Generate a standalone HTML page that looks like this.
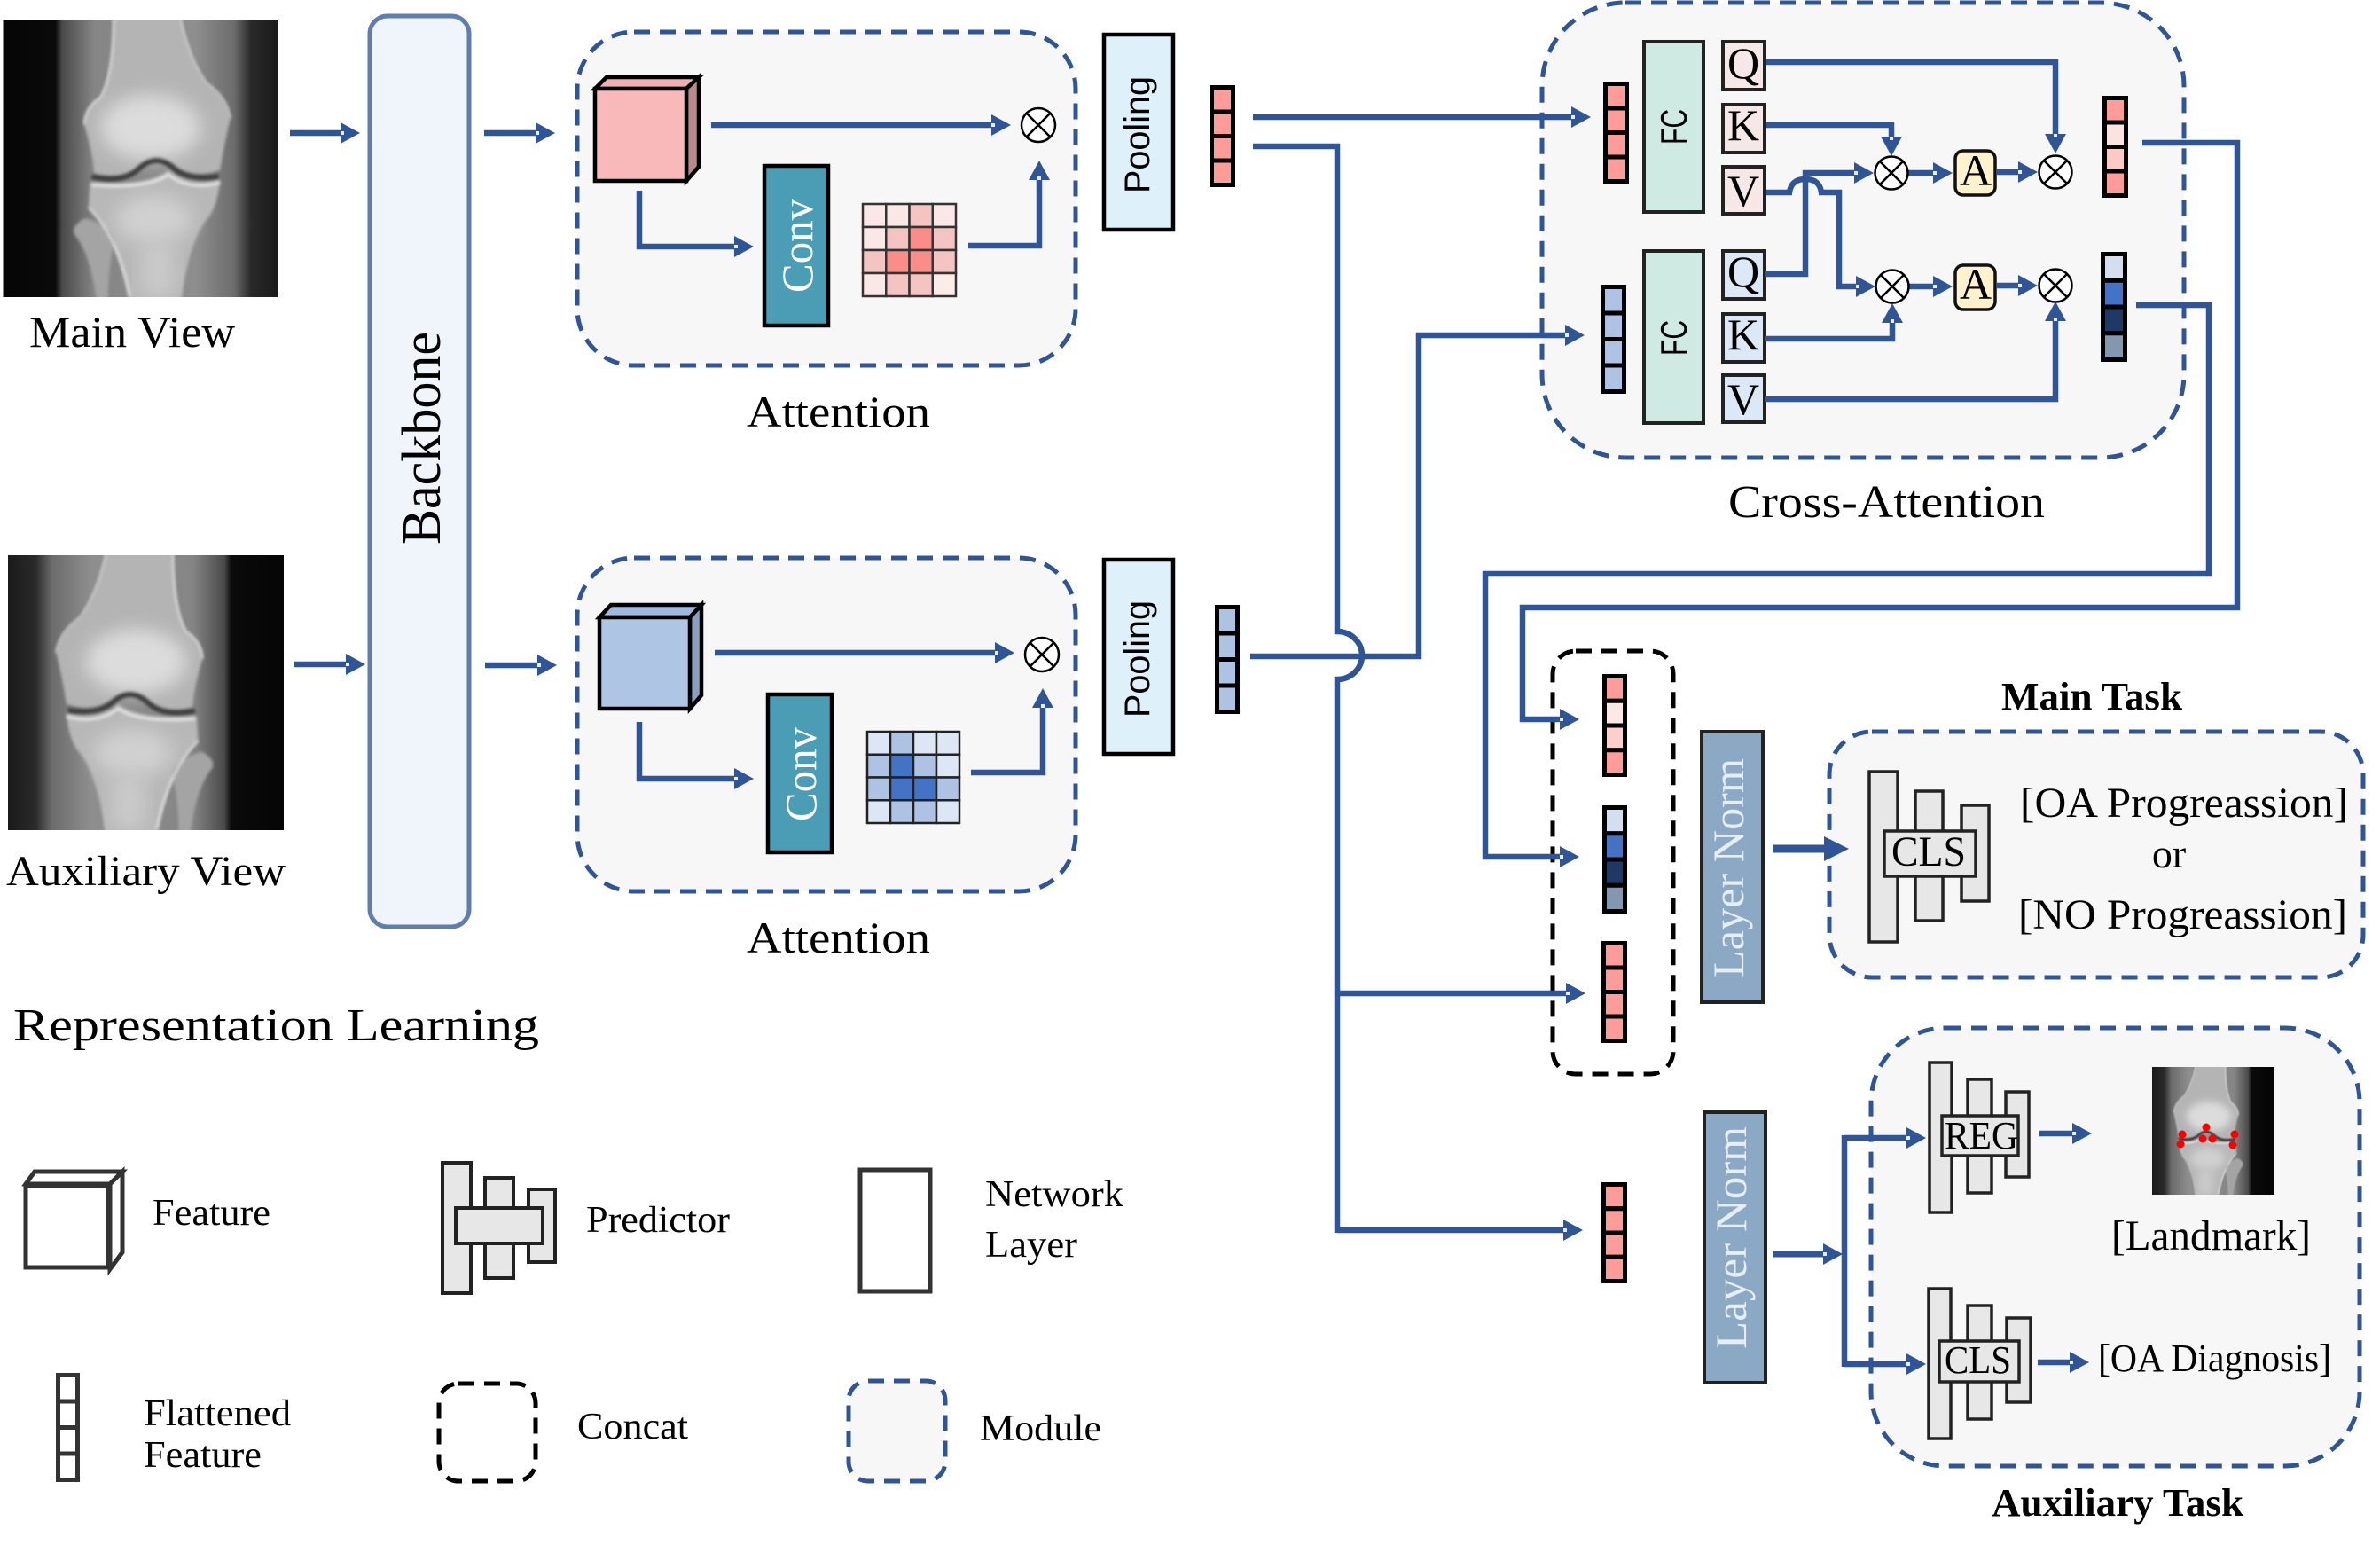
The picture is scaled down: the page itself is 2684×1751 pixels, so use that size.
<!DOCTYPE html>
<html><head><meta charset="utf-8"><style>
html,body{margin:0;padding:0;background:#fff}
svg{display:block}
text{font-family:"Liberation Serif",serif;fill:#000}
.s{font-family:"Liberation Sans",sans-serif}
.l{fill:none;stroke:#2f5597;stroke-width:6.5;stroke-linejoin:miter}
.a{marker-end:url(#h)}
.mod{fill:#f7f7f7;stroke:#2f5597;stroke-width:5;stroke-dasharray:18 11}
.con{fill:none;stroke:#000;stroke-width:5;stroke-dasharray:18 11}
.k{stroke:#000;stroke-width:4.5}
.b{stroke:#000;stroke-width:5}
.p{fill:#e7e7e7;stroke:#222;stroke-width:3.5}
.x{fill:#fff;stroke:#000;stroke-width:2.5}
.xm{stroke:#000;stroke-width:2.5}
</style></head><body>
<svg xmlns="http://www.w3.org/2000/svg" width="2684" height="1751" viewBox="0 0 2684 1751">
<defs>
<marker id="h" markerUnits="userSpaceOnUse" viewBox="-8 -13 32 26" refX="0" refY="0" markerWidth="32" markerHeight="26" orient="auto"><path d="M0,-12L22,0L0,12Z" fill="#2f5597"/><rect x="0" y="-2" width="4" height="4" fill="#e8eefa"/></marker>
<marker id="H" markerUnits="userSpaceOnUse" viewBox="-2 -16 36 32" refX="0" refY="0" markerWidth="36" markerHeight="32" orient="auto"><path d="M0,-14L28,0L0,14Z" fill="#2f5597"/></marker>
<linearGradient id="tis" x1="0" x2="1" y1="0" y2="0">
<stop offset="0" stop-color="#050505"/><stop offset=".19" stop-color="#0a0a0a"/><stop offset=".215" stop-color="#4a4a4a"/><stop offset=".33" stop-color="#858585"/><stop offset=".7" stop-color="#8e8e8e"/><stop offset=".84" stop-color="#6c6c6c"/><stop offset=".9" stop-color="#2a2a2a"/><stop offset="1" stop-color="#1a1a1a"/>
</linearGradient>
<filter id="bl" x="-5%" y="-5%" width="110%" height="110%"><feGaussianBlur stdDeviation="5"/></filter>
<filter id="bl2" x="-30%" y="-30%" width="160%" height="160%"><feGaussianBlur stdDeviation="30"/></filter>
<symbol id="knee" viewBox="10 68 933 936" preserveAspectRatio="none">
<rect x="10" y="68" width="933" height="936" fill="url(#tis)"/>
<g filter="url(#bl)">
<path d="M385,40L610,40Q640,200 700,280Q770,330 780,400Q760,480 745,575Q650,605 590,555Q530,500 470,555Q420,610 320,585Q310,500 285,420Q290,360 340,330Q385,250 385,40Z" fill="#b4b4b4"/>
<path d="M305,615Q500,630 570,575Q640,635 745,605Q740,680 710,730Q640,800 610,1040L440,1040Q400,800 300,700Z" fill="#b8b8b8"/>
<path d="M250,770Q280,730 300,740Q400,780 385,830Q365,900 365,1040L330,1040Q310,860 250,790Z" fill="#a4a4a4"/>
</g>
<ellipse cx="510" cy="430" rx="170" ry="110" fill="#dcdcdc" filter="url(#bl2)"/>
<ellipse cx="520" cy="740" rx="130" ry="80" fill="#d0d0d0" filter="url(#bl2)"/>
<rect x="480" y="820" width="110" height="180" fill="#cacaca" filter="url(#bl2)"/>
<g filter="url(#bl)">
<path d="M310,597Q420,620 470,570Q530,515 590,570Q640,612 740,595" fill="none" stroke="#3e3e3e" stroke-width="17"/>
<path d="M385,60Q385,250 340,330Q290,360 285,420" fill="none" stroke="#e2e2e2" stroke-width="7"/>
<path d="M610,60Q640,200 700,280Q770,330 780,400" fill="none" stroke="#d0d0d0" stroke-width="6"/>
<path d="M440,1000Q400,800 300,700" fill="none" stroke="#e2e2e2" stroke-width="7"/>
<path d="M310,625Q500,640 570,590Q640,645 745,618" fill="none" stroke="#e6e6e6" stroke-width="9"/>
</g>
</symbol>
</defs>

<rect width="2684" height="1751" fill="#fff"/>

<!-- X-rays -->
<use href="#knee" x="3.5" y="23" width="310.5" height="312"/>
<use href="#knee" x="9" y="626" width="311" height="310" transform="translate(329,0) scale(-1,1)"/>

<text x="33" y="391" font-size="50" textLength="232" lengthAdjust="spacingAndGlyphs">Main View</text>
<text x="7" y="998" font-size="48" textLength="315" lengthAdjust="spacingAndGlyphs">Auxiliary View</text>

<!-- Backbone -->
<rect x="417" y="18" width="112" height="1027" rx="20" fill="#f0f4fb" stroke="#5f7ead" stroke-width="5"/>
<text transform="translate(496,614) rotate(-90)" font-size="62" textLength="240" lengthAdjust="spacingAndGlyphs">Backbone</text>

<!-- Attention modules -->
<rect class="mod" x="651" y="36" width="562" height="376" rx="64"/>
<rect class="mod" x="651" y="629" width="562" height="376" rx="64"/>
<text x="842" y="481" font-size="50" textLength="207" lengthAdjust="spacingAndGlyphs">Attention</text>
<text x="842" y="1074" font-size="50" textLength="207" lengthAdjust="spacingAndGlyphs">Attention</text>

<!-- Cube 1 -->
<g class="k" stroke-linejoin="miter">
<path d="M671,100L684,87H788L774,100Z" fill="#f2aeb0"/>
<path d="M774,100L788,87V188L774,204Z" fill="#b98a8c"/>
<rect x="671" y="100" width="103" height="104" fill="#f9b9bb"/>
</g>
<!-- Cube 2 -->
<g class="k" stroke-linejoin="miter">
<path d="M676,696L689,682H791L778,696Z" fill="#9fb9de"/>
<path d="M778,696L791,682V784L778,799Z" fill="#8ba0bf"/>
<rect x="676" y="696" width="102" height="103" fill="#aec6e4"/>
</g>

<!-- Conv -->
<rect class="k" x="862" y="187" width="72" height="180" fill="#4a9db5"/>
<rect class="k" x="866" y="783" width="72" height="178" fill="#4a9db5"/>
<text transform="translate(916,330) rotate(-90)" font-size="50" textLength="106" lengthAdjust="spacingAndGlyphs" style="fill:#fff">Conv</text>
<text transform="translate(920,926) rotate(-90)" font-size="50" textLength="106" lengthAdjust="spacingAndGlyphs" style="fill:#fff">Conv</text>

<!-- Grid 1 -->
<g stroke="#333" stroke-width="2.5">
<rect x="973" y="230" width="26.25" height="26" fill="#f9e8e6"/><rect x="999.25" y="230" width="26.25" height="26" fill="#f9e8e6"/><rect x="1025.5" y="230" width="26.25" height="26" fill="#f4c4c2"/><rect x="1051.75" y="230" width="26.25" height="26" fill="#f9e8e6"/>
<rect x="973" y="256" width="26.25" height="26" fill="#f9e8e6"/><rect x="999.25" y="256" width="26.25" height="26" fill="#f4c4c2"/><rect x="1025.5" y="256" width="26.25" height="26" fill="#fb8d88"/><rect x="1051.75" y="256" width="26.25" height="26" fill="#f4c4c2"/>
<rect x="973" y="282" width="26.25" height="26" fill="#f4c4c2"/><rect x="999.25" y="282" width="26.25" height="26" fill="#fb8d88"/><rect x="1025.5" y="282" width="26.25" height="26" fill="#fb8d88"/><rect x="1051.75" y="282" width="26.25" height="26" fill="#f4c4c2"/>
<rect x="973" y="308" width="26.25" height="26" fill="#f9e8e6"/><rect x="999.25" y="308" width="26.25" height="26" fill="#f4c4c2"/><rect x="1025.5" y="308" width="26.25" height="26" fill="#f4c4c2"/><rect x="1051.75" y="308" width="26.25" height="26" fill="#fbecea"/>
</g>
<!-- Grid 2 -->
<g stroke="#222" stroke-width="2.5">
<rect x="978" y="825" width="26" height="25.75" fill="#dce6f4"/><rect x="1004" y="825" width="26" height="25.75" fill="#aec2e3"/><rect x="1030" y="825" width="26" height="25.75" fill="#dce6f4"/><rect x="1056" y="825" width="26" height="25.75" fill="#dce6f4"/>
<rect x="978" y="850.75" width="26" height="25.75" fill="#aec2e3"/><rect x="1004" y="850.75" width="26" height="25.75" fill="#4472c4"/><rect x="1030" y="850.75" width="26" height="25.75" fill="#aec2e3"/><rect x="1056" y="850.75" width="26" height="25.75" fill="#dce6f4"/>
<rect x="978" y="876.5" width="26" height="25.75" fill="#aec2e3"/><rect x="1004" y="876.5" width="26" height="25.75" fill="#4472c4"/><rect x="1030" y="876.5" width="26" height="25.75" fill="#4472c4"/><rect x="1056" y="876.5" width="26" height="25.75" fill="#aec2e3"/>
<rect x="978" y="902.25" width="26" height="25.75" fill="#dce6f4"/><rect x="1004" y="902.25" width="26" height="25.75" fill="#aec2e3"/><rect x="1030" y="902.25" width="26" height="25.75" fill="#aec2e3"/><rect x="1056" y="902.25" width="26" height="25.75" fill="#dce6f4"/>
</g>

<!-- Pooling -->
<rect class="k" x="1245" y="39" width="78" height="220" fill="#def1fb"/>
<rect class="k" x="1245" y="631" width="78" height="219" fill="#def1fb"/>
<text class="s" transform="translate(1296,218) rotate(-90)" font-size="40" textLength="132" lengthAdjust="spacingAndGlyphs">Pooling</text>
<text class="s" transform="translate(1296,809) rotate(-90)" font-size="40" textLength="132" lengthAdjust="spacingAndGlyphs">Pooling</text>

<!-- Cross-attention module -->
<rect class="mod" x="1739" y="3" width="724" height="513" rx="94"/>
<text x="1949" y="583" font-size="52" textLength="357" lengthAdjust="spacingAndGlyphs">Cross-Attention</text>

<!-- Main task / aux task modules -->
<rect class="mod" x="2063" y="825" width="602" height="277" rx="48"/>
<rect class="mod" x="2110" y="1159" width="551" height="494" rx="84"/>
<text x="2257" y="800" font-size="44" font-weight="bold" textLength="204" lengthAdjust="spacingAndGlyphs">Main Task</text>
<text x="2246" y="1709" font-size="44" font-weight="bold" textLength="284" lengthAdjust="spacingAndGlyphs">Auxiliary Task</text>

<!-- Landmark image -->
<use href="#knee" x="2427" y="1203" width="138" height="144" transform="translate(4992,0) scale(-1,1)"/>
<g fill="#f00"><circle cx="2461" cy="1279" r="4.5"/><circle cx="2459" cy="1290" r="4.5"/><circle cx="2488" cy="1271" r="4.5"/><circle cx="2484" cy="1284" r="4.5"/><circle cx="2495" cy="1284" r="4.5"/><circle cx="2520" cy="1279" r="4.5"/><circle cx="2518" cy="1291" r="4.5"/></g>

<!-- Concat -->
<rect class="con" x="1751" y="734" width="136" height="477" rx="26"/>

<!-- FC -->
<g stroke="#222" stroke-width="4">
<rect x="1854" y="47" width="67" height="192" fill="#cfeae3"/>
<rect x="1854" y="283" width="67" height="194" fill="#cfeae3"/>
</g>
<text class="s" transform="translate(1902,163) rotate(-90)" font-size="42" textLength="40" lengthAdjust="spacingAndGlyphs">FC</text>
<text class="s" transform="translate(1902,401) rotate(-90)" font-size="42" textLength="40" lengthAdjust="spacingAndGlyphs">FC</text>

<!-- QKV -->
<g stroke="#222" stroke-width="4">
<rect x="1943" y="47" width="47" height="54" fill="#f5e8e6"/>
<rect x="1943" y="118" width="47" height="54" fill="#f5e8e6"/>
<rect x="1943" y="188" width="47" height="53" fill="#f5e8e6"/>
<rect x="1943" y="283" width="47" height="54" fill="#dce8f5"/>
<rect x="1943" y="354" width="47" height="54" fill="#dce8f5"/>
<rect x="1943" y="423" width="47" height="53" fill="#dce8f5"/>
</g>
<g font-size="50" text-anchor="middle">
<text x="1966" y="88">Q</text><text x="1966" y="158">K</text><text x="1966" y="232">V</text>
<text x="1966" y="323">Q</text><text x="1966" y="394">K</text><text x="1966" y="467">V</text>
</g>

<!-- A boxes -->
<rect x="2205" y="170" width="45" height="50" rx="9" fill="#fff2cc" stroke="#111" stroke-width="3.5"/>
<rect x="2205" y="299" width="45" height="50" rx="9" fill="#fff2cc" stroke="#111" stroke-width="3.5"/>
<text x="2228" y="209" font-size="50" text-anchor="middle">A</text>
<text x="2228" y="337" font-size="50" text-anchor="middle">A</text>

<!-- Connectors -->
<g class="l">
<path class="a" d="M327,150H384"/>
<path class="a" d="M546,150H604"/>
<path class="a" d="M332,749H390"/>
<path class="a" d="M547,750H606"/>
<path class="a" d="M802,141H1118"/>
<path class="a" d="M806,736H1122"/>
<path class="a" d="M721,215V278H828"/>
<path class="a" d="M721,814V878H828"/>
<path class="a" d="M1092,277H1172V203"/>
<path class="a" d="M1095,871H1176V798"/>
<path class="a" d="M1413,132H1772"/>
<path class="a" d="M1410,740H1600V378H1765"/>
<path d="M1413,165H1508V712A28,27 0 0 1 1508,766V1390"/>
<path class="a" d="M1508,1120H1766"/>
<path class="a" d="M1508,1387H1763"/>
<path class="a" d="M1992,70H2318V151"/>
<path class="a" d="M1992,141H2133V154"/>
<path class="a" d="M1992,217H2018Q2020,202 2036,202Q2052,202 2054,217H2074V323H2093"/>
<path class="a" d="M1991,309H2036V195H2091"/>
<path class="a" d="M2152,195H2180"/>
<path class="a" d="M2152,323H2180"/>
<path class="a" d="M2252,194H2276"/>
<path class="a" d="M2252,322H2276"/>
<path class="a" d="M1991,382H2134V364"/>
<path class="a" d="M1991,450H2318V362"/>
<path class="a" d="M2416,161H2523V685H1717V811H1759"/>
<path class="a" d="M2409,344H2491V647H1675V966H1759"/>
<path class="a" d="M2080,1283H2150"/>
<path class="a" d="M2080,1538H2150"/>
<path d="M2080,1280V1541"/>
<path class="a" d="M2300,1278H2337"/>
<path class="a" d="M2298,1536H2334"/>
<path class="a" style="stroke-width:7" d="M2000,1414H2056"/>
</g>
<path d="M2000,957H2057" class="l" style="stroke-width:9" marker-end="url(#H)"/>

<!-- X circles -->
<g>
<circle class="x" cx="1171" cy="141" r="19"/><path class="xm" d="M1158,128L1184,154M1184,128L1158,154"/>
<circle class="x" cx="1175" cy="738" r="19"/><path class="xm" d="M1162,725L1188,751M1188,725L1162,751"/>
<circle class="x" cx="2133" cy="195" r="18.5"/><path class="xm" d="M2120,182L2146,208M2146,182L2120,208"/>
<circle class="x" cx="2318" cy="194" r="18.5"/><path class="xm" d="M2305,181L2331,207M2331,181L2305,207"/>
<circle class="x" cx="2134" cy="323" r="18.5"/><path class="xm" d="M2121,310L2147,336M2147,310L2121,336"/>
<circle class="x" cx="2318" cy="322" r="18.5"/><path class="xm" d="M2305,309L2331,335M2331,309L2305,335"/>
</g>

<!-- Flattened bars -->
<g class="b">
<rect x="1366.5" y="98.5" width="24" height="27.5" fill="#fd9c98"/><rect x="1366.5" y="126" width="24" height="27.5" fill="#fd9c98"/><rect x="1366.5" y="153.5" width="24" height="27.5" fill="#fd9c98"/><rect x="1366.5" y="181" width="24" height="27.5" fill="#fd9c98"/>
<rect x="1372.5" y="684.5" width="23" height="29.5" fill="#aec2e3"/><rect x="1372.5" y="714" width="23" height="29.5" fill="#aec2e3"/><rect x="1372.5" y="743.5" width="23" height="29.5" fill="#aec2e3"/><rect x="1372.5" y="773" width="23" height="29.5" fill="#aec2e3"/>
<rect x="1810.5" y="94.5" width="24" height="27.5" fill="#fd9c98"/><rect x="1810.5" y="122" width="24" height="27.5" fill="#fd9c98"/><rect x="1810.5" y="149.5" width="24" height="27.5" fill="#fd9c98"/><rect x="1810.5" y="177" width="24" height="27.5" fill="#fd9c98"/>
<rect x="1807.5" y="323.5" width="24" height="29.5" fill="#aec2e3"/><rect x="1807.5" y="353" width="24" height="29.5" fill="#aec2e3"/><rect x="1807.5" y="382.5" width="24" height="29.5" fill="#aec2e3"/><rect x="1807.5" y="412" width="24" height="29.5" fill="#aec2e3"/>
<rect x="2373.5" y="110.5" width="24" height="27.5" fill="#fd9c98"/><rect x="2373.5" y="138" width="24" height="27.5" fill="#fae3e1"/><rect x="2373.5" y="165.5" width="24" height="27.5" fill="#fbc9c6"/><rect x="2373.5" y="193" width="24" height="27.5" fill="#fd9c98"/>
<rect x="2371.5" y="286.5" width="25" height="29.75" fill="#d3deef"/><rect x="2371.5" y="316.25" width="25" height="29.75" fill="#4472c4"/><rect x="2371.5" y="346" width="25" height="29.75" fill="#203864"/><rect x="2371.5" y="375.75" width="25" height="29.75" fill="#8497b0"/>
<rect x="1809.5" y="762.5" width="23" height="27.75" fill="#fd9c98"/><rect x="1809.5" y="790.25" width="23" height="27.75" fill="#fde7e5"/><rect x="1809.5" y="818" width="23" height="27.75" fill="#fdcfcc"/><rect x="1809.5" y="845.75" width="23" height="27.75" fill="#fd9c98"/>
<rect x="1809.5" y="910.5" width="23" height="29.25" fill="#d3deef"/><rect x="1809.5" y="939.75" width="23" height="29.25" fill="#4472c4"/><rect x="1809.5" y="969" width="23" height="29.25" fill="#203864"/><rect x="1809.5" y="998.25" width="23" height="29.25" fill="#8497b0"/>
<rect x="1808.5" y="1063.5" width="24" height="27.5" fill="#fd9c98"/><rect x="1808.5" y="1091" width="24" height="27.5" fill="#fd9c98"/><rect x="1808.5" y="1118.5" width="24" height="27.5" fill="#fd9c98"/><rect x="1808.5" y="1146" width="24" height="27.5" fill="#fd9c98"/>
<rect x="1808.5" y="1335.5" width="24" height="27.25" fill="#fd9c98"/><rect x="1808.5" y="1362.75" width="24" height="27.25" fill="#fd9c98"/><rect x="1808.5" y="1390" width="24" height="27.25" fill="#fd9c98"/><rect x="1808.5" y="1417.25" width="24" height="27.25" fill="#fd9c98"/>
</g>

<!-- Layer norm -->
<g stroke="#222" stroke-width="4">
<rect x="1919" y="825" width="69" height="305" fill="#8ba8c4"/>
<rect x="1922" y="1254" width="69" height="305" fill="#8ba8c4"/>
</g>
<text transform="translate(1966,1102) rotate(-90)" font-size="50" textLength="247" lengthAdjust="spacingAndGlyphs" style="fill:#e6eef5">Layer Norm</text>
<text transform="translate(1969,1521) rotate(-90)" font-size="50" textLength="251" lengthAdjust="spacingAndGlyphs" style="fill:#e6eef5">Layer Norm</text>

<!-- Predictor Main -->
<g class="p">
<rect x="2108" y="870" width="32" height="192"/><rect x="2160" y="892" width="31" height="146"/><rect x="2212" y="908" width="31" height="108"/><rect x="2125" y="937" width="103" height="51"/>
</g>
<text x="2133" y="976" font-size="48" textLength="84" lengthAdjust="spacingAndGlyphs">CLS</text>
<text x="2278" y="921" font-size="48" textLength="370" lengthAdjust="spacingAndGlyphs">[OA Progreassion]</text>
<text x="2446" y="978" font-size="46" text-anchor="middle">or</text>
<text x="2276" y="1047" font-size="48" textLength="371" lengthAdjust="spacingAndGlyphs">[NO Progreassion]</text>

<!-- Predictor REG -->
<g class="p">
<rect x="2176" y="1198" width="25" height="169"/><rect x="2219" y="1217" width="27" height="128"/><rect x="2262" y="1231" width="26" height="96"/><rect x="2190" y="1258" width="86" height="45"/>
</g>
<text x="2193" y="1295" font-size="44" textLength="83" lengthAdjust="spacingAndGlyphs">REG</text>
<text x="2381" y="1409" font-size="48" textLength="225" lengthAdjust="spacingAndGlyphs">[Landmark]</text>

<!-- Predictor CLS 2 -->
<g class="p">
<rect x="2175" y="1453" width="25" height="169"/><rect x="2219" y="1472" width="27" height="128"/><rect x="2263" y="1486" width="27" height="95"/><rect x="2187" y="1512" width="90" height="46"/>
</g>
<text x="2193" y="1548" font-size="44" textLength="75" lengthAdjust="spacingAndGlyphs">CLS</text>
<text x="2366" y="1546" font-size="44" textLength="263" lengthAdjust="spacingAndGlyphs">[OA Diagnosis]</text>

<!-- Legend -->
<text x="15" y="1173" font-size="52" textLength="593" lengthAdjust="spacingAndGlyphs">Representation Learning</text>
<g fill="#fff" stroke="#333" stroke-width="5" stroke-linejoin="miter">
<path d="M29,1335L39,1321H138L124,1335Z"/><path d="M124,1335L138,1321V1412L124,1431Z"/><rect x="29" y="1337" width="93" height="92"/>
<rect x="970" y="1319" width="79" height="137"/>
<rect x="65.5" y="1550.5" width="22" height="29.5"/><rect x="65.5" y="1580" width="22" height="29.5"/><rect x="65.5" y="1609.5" width="22" height="29.5"/><rect x="65.5" y="1639" width="22" height="29.5"/>
</g>
<g fill="#e7e7e7" stroke="#222" stroke-width="4">
<rect x="499" y="1311" width="32" height="147"/><rect x="547" y="1328" width="32" height="113"/><rect x="596" y="1341" width="30" height="82"/><rect x="514" y="1362" width="98" height="40"/>
</g>
<text x="172" y="1381" font-size="42" textLength="133" lengthAdjust="spacingAndGlyphs">Feature</text>
<text x="661" y="1389" font-size="42" textLength="162" lengthAdjust="spacingAndGlyphs">Predictor</text>
<text x="1111" y="1360" font-size="42" textLength="156" lengthAdjust="spacingAndGlyphs">Network</text>
<text x="1111" y="1417" font-size="42" textLength="104" lengthAdjust="spacingAndGlyphs">Layer</text>
<text x="162" y="1607" font-size="42" textLength="166" lengthAdjust="spacingAndGlyphs">Flattened</text>
<text x="162" y="1654" font-size="42" textLength="133" lengthAdjust="spacingAndGlyphs">Feature</text>
<text x="651" y="1622" font-size="42" textLength="125" lengthAdjust="spacingAndGlyphs">Concat</text>
<text x="1105" y="1624" font-size="42" textLength="137" lengthAdjust="spacingAndGlyphs">Module</text>
<rect class="con" x="495" y="1560" width="109" height="110" rx="22"/>
<rect class="mod" x="957" y="1557" width="109" height="113" rx="22"/>
</svg>
</body></html>
